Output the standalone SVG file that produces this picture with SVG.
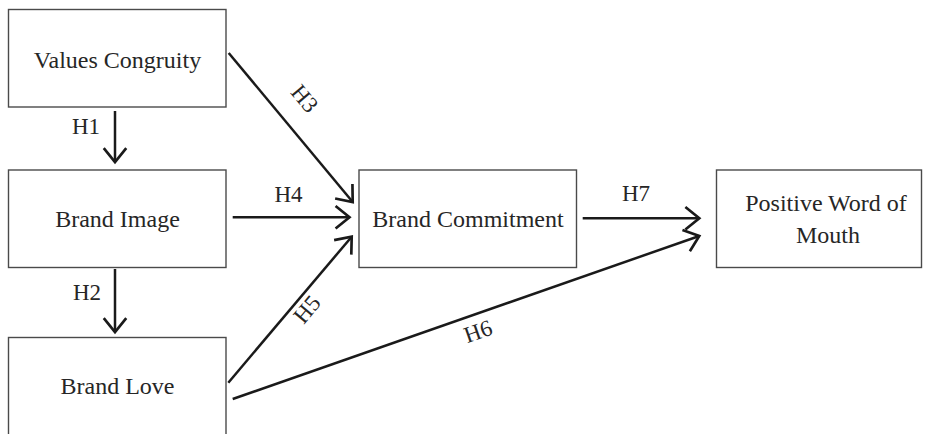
<svg xmlns="http://www.w3.org/2000/svg" width="931" height="434" viewBox="0 0 931 434">
<style>
.box{fill:#fff;stroke:#4a4a4a;stroke-width:1.4}
text{font-family:'Liberation Serif','DejaVu Serif',serif;fill:#262626;text-anchor:middle}
.lbl{font-size:24px}
.hl{font-size:23px}
.conn{fill:none;stroke:#1a1a1a;stroke-width:2.5;marker-end:url(#arr)}
</style>
<defs>
<marker id="arr" markerUnits="userSpaceOnUse" markerWidth="30" markerHeight="30" viewBox="-16 -14 20 28" refX="0" refY="0" orient="auto">
<path d="M-13,-10.5 L0,0 L-13,10.5" fill="none" stroke="#1a1a1a" stroke-width="2.5"/>
</marker>
</defs>
<rect width="931" height="434" fill="#fff"/>
<g id="values-congruity"><rect class="box" x="8.5" y="9.5" width="217.5" height="97.5"/><text class="lbl" font-family="Liberation Serif, serif" x="117.5" y="68">Values Congruity</text></g>
<g id="brand-image"><rect class="box" x="8.5" y="170" width="217.5" height="97.5"/><text class="lbl" font-family="Liberation Serif, serif" x="117.5" y="226.5">Brand Image</text></g>
<g id="brand-love"><rect class="box" x="8.5" y="337.5" width="217.5" height="98"/><text class="lbl" font-family="Liberation Serif, serif" x="117.5" y="394">Brand Love</text></g>
<g id="brand-commitment"><rect class="box" x="359" y="170" width="217.5" height="97.5"/><text class="lbl" font-family="Liberation Serif, serif" x="468" y="226.5">Brand Commitment</text></g>
<g id="positive-wom"><rect class="box" x="716.5" y="170" width="205" height="97.5"/><text class="lbl" font-family="Liberation Serif, serif" x="826" y="211">Positive Word of</text><text class="lbl" font-family="Liberation Serif, serif" x="828" y="243">Mouth</text></g>
<g id="connectors">
<line class="conn" x1="115" y1="111" x2="115" y2="162"/>
<line class="conn" x1="115" y1="269" x2="115" y2="332"/>
<line class="conn" x1="228.7" y1="53" x2="352.7" y2="202"/>
<line class="conn" x1="232.7" y1="217.3" x2="349.5" y2="217.3"/>
<line class="conn" x1="228.3" y1="382.7" x2="351.7" y2="236.7"/>
<line class="conn" x1="232.7" y1="399" x2="699.3" y2="236"/>
<line class="conn" x1="582.7" y1="218.3" x2="699.3" y2="218.3"/>
<text class="hl" font-family="Liberation Serif, serif" x="86" y="133.5">H1</text>
<text class="hl" font-family="Liberation Serif, serif" x="87" y="299.5">H2</text>
<text class="hl" font-family="Liberation Serif, serif" transform="translate(305,98.3) rotate(50)" x="0" y="8">H3</text>
<text class="hl" font-family="Liberation Serif, serif" x="288.5" y="201.5">H4</text>
<text class="hl" font-family="Liberation Serif, serif" transform="translate(306.7,309) rotate(-50)" x="0" y="8">H5</text>
<text class="hl" font-family="Liberation Serif, serif" transform="translate(478,331) rotate(-19.3)" x="0" y="8">H6</text>
<text class="hl" font-family="Liberation Serif, serif" x="636" y="200.5">H7</text>
</g>
</svg>
